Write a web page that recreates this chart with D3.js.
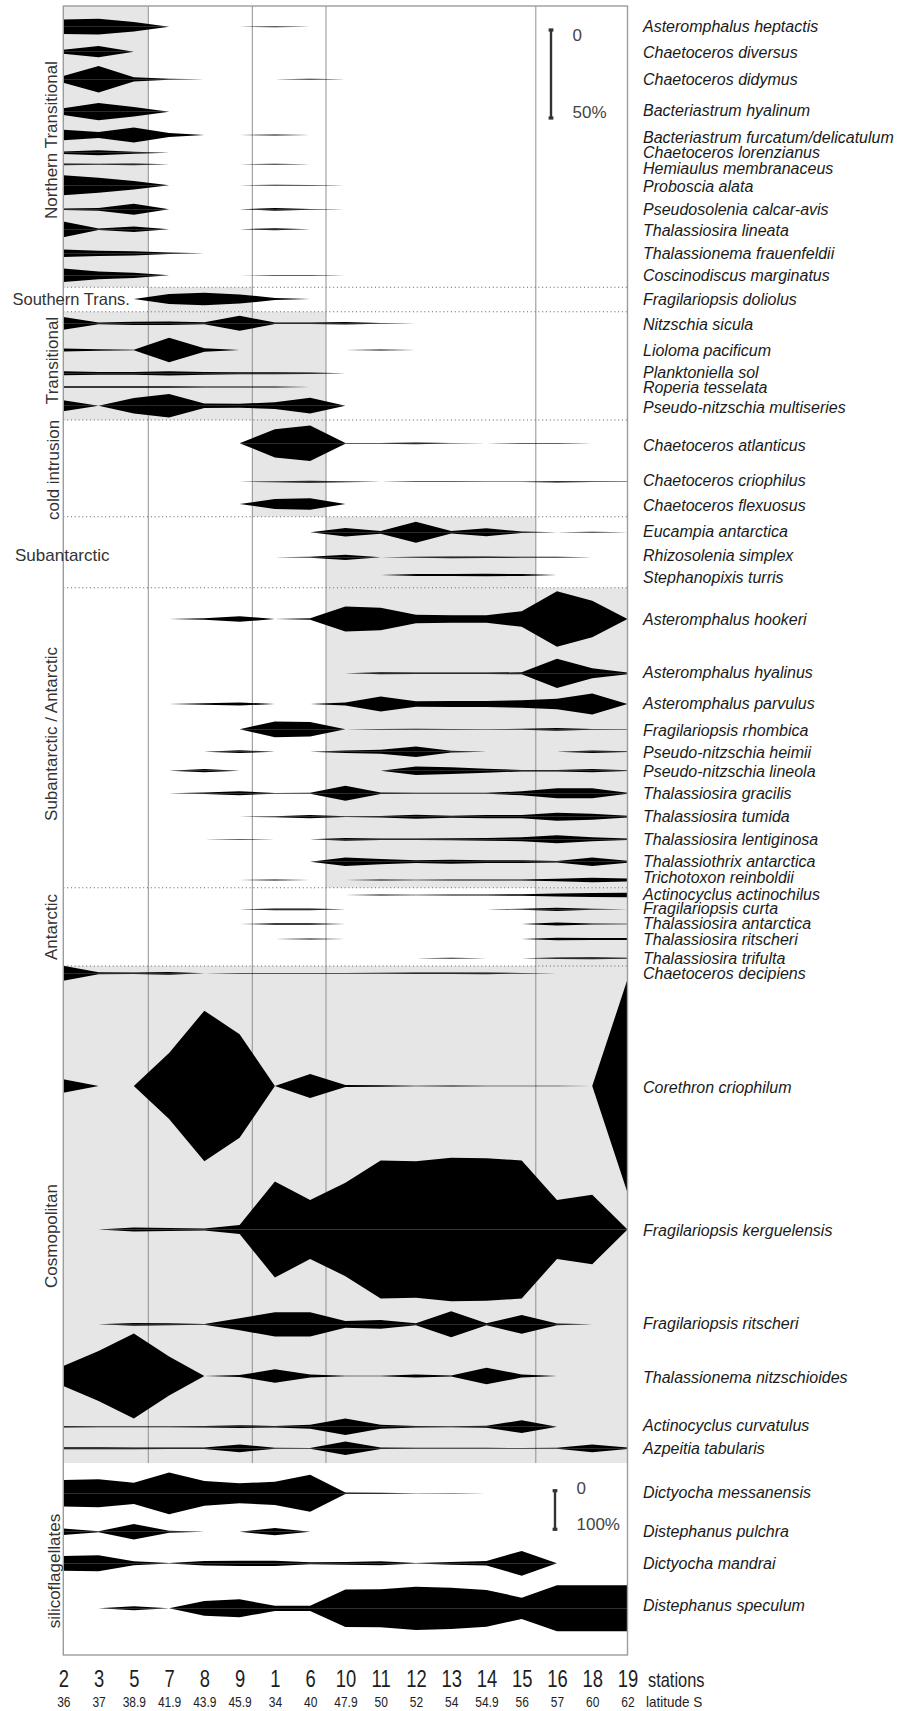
<!DOCTYPE html>
<html><head><meta charset="utf-8">
<script src="https://cdn.jsdelivr.net/npm/d3@7"></script>
<style>
body{margin:0;background:#fff}
svg{display:block}
text{font-family:"Liberation Sans",Arial,Helvetica,sans-serif}
</style>
</head><body>
<svg id="chart" width="899" height="1711"></svg>
<script>
// ---------------- DATA ----------------
const stations  = ["2","3","5","7","8","9","1","6","10","11","12","13","14","15","16","18","19"];
const latitudes = ["36","37","38.9","41.9","43.9","45.9","34","40","47.9","50","52","54","54.9","56","57","60","62"];

const groupLabels = ["Northern Transitional","Southern Trans.","Transitional","cold intrusion","Subantarctic",
  "Subantarctic / Antarctic","Antarctic","Cosmopolitan","silicoflagellates"];

const northernSpecies = ["Asteromphalus heptactis","Chaetoceros diversus","Chaetoceros didymus","Bacteriastrum hyalinum",
  "Bacteriastrum furcatum/delicatulum","Chaetoceros lorenzianus","Hemiaulus membranaceus","Proboscia alata",
  "Pseudosolenia calcar-avis","Thalassiosira lineata","Thalassionema frauenfeldii","Coscinodiscus marginatus"];
const northernValues = [
  [4.1,4.5,2.7,0,0,0,0.3,0,0,0,0,0,0,0,0,0,0],
  [1.1,3.2,0,0,0,0,0,0,0,0,0,0,0,0,0,0,0],
  [1.9,7.5,1.2,0.3,0,0,0,0.3,0,0,0,0,0,0,0,0,0],
  [1.9,4.9,2.7,0,0,0,0,0,0,0,0,0,0,0,0,0,0],
  [3.0,1.7,4.3,1.1,0,0,0.3,0,0,0,0,0,0,0,0,0,0],
  [0.7,1.4,0.6,0,0,0,0,0,0,0,0,0,0,0,0,0,0],
  [0.5,0.3,0.5,0,0,0,0.3,0,0,0,0,0,0,0,0,0,0],
  [5.7,4.3,2.4,0,0,0,0.25,0.2,0,0,0,0,0,0,0,0,0],
  [0.4,0.8,3.1,0,0,0,0.8,0.2,0,0,0,0,0,0,0,0,0],
  [4.5,0.4,1.6,0,0,0,0.6,0,0,0,0,0,0,0,0,0,0],
  [2.1,1.5,1.2,0.4,0,0,0,0,0,0,0,0,0,0,0,0,0],
  [3.8,2.2,1.5,0,0,0,0.2,0.2,0,0,0,0,0,0,0,0,0]
];

const southernSpecies = ["Fragilariopsis doliolus"];
const southernValues = [
  [0,0,0,2.9,3.6,2.6,0.6,0,0,0,0,0,0,0,0,0,0]
];

const transitionalSpecies = ["Nitzschia sicula","Lioloma pacificum","Planktoniella sol","Roperia tesselata","Pseudo-nitzschia multiseries"];
const transitionalValues = [
  [3.6,0.5,0.9,1.0,0.6,4.3,0.4,0.4,0.7,0.2,0,0,0,0,0,0,0],
  [0.9,0.4,0.2,6.9,1.0,0,0,0,0,0.3,0,0,0,0,0,0,0],
  [1.1,0.8,0.8,1.2,0.8,0.6,0.6,0.4,0,0,0,0,0,0,0,0,0],
  [0.4,0.4,0.4,0.4,0.3,0.3,0.3,0,0,0,0,0,0,0,0,0,0],
  [3.1,0,4.4,6.7,1.3,1.1,1.9,4.5,0,0,0,0,0,0,0,0,0]
];

const coldSpecies = ["Chaetoceros atlanticus","Chaetoceros criophilus","Chaetoceros flexuosus"];
const coldValues = [
  [0,0,0,0,0,0,8.0,10.1,0.2,0.2,0.5,0.1,0,0.2,0.2,0,0],
  [0,0,0,0,0,0,0.3,0.6,0.3,0,0.2,0.2,0.1,0.1,0.4,0.2,0.1],
  [0,0,0,0,0,0,2.8,3.3,0,0,0,0,0,0,0,0,0]
];

const subantarcticSpecies = ["Eucampia antarctica","Rhizosolenia simplex","Stephanopixis turris"];
const subantarcticValues = [
  [0,0,0,0,0,0,0,0,2.4,0.8,6.0,0.7,2.3,0.4,0,0.3,0],
  [0,0,0,0,0,0,0,0.3,1.5,0,0.3,0.5,0.4,0.3,0.3,0,0],
  [0,0,0,0,0,0,0,0,0,0,0.5,0.6,0.7,0.5,0,0,0]
];

const subAntSpecies = ["Asteromphalus hookeri","Asteromphalus hyalinus","Asteromphalus parvulus","Fragilariopsis rhombica",
  "Pseudo-nitzschia heimii","Pseudo-nitzschia lineola","Thalassiosira gracilis","Thalassiosira tumida",
  "Thalassiosira lentiginosa","Thalassiothrix antarctica","Trichotoxon reinboldii"];
const subAntValues = [
  [0,0,0,0,0.4,1.6,0,0.4,7.1,6.4,2.4,2.2,2.2,4.4,15.8,10.3,0],
  [0,0,0,0,0,0,0,0,0,0.6,0.4,0.4,0.4,0.6,8.3,2.8,0.5],
  [0,0,0,0,0.4,0.9,0,0,0.9,4.3,1.5,1.7,1.7,2.1,3.0,6.0,0],
  [0,0,0,0,0,0,4.5,4.1,0,0.2,0.3,0.2,0.1,0.3,0.8,0.2,0.1],
  [0,0,0,0,0,0.8,0,0,0.7,1.1,3.0,0.5,0,0,0,0.7,0.2],
  [0,0,0,0,0.9,0,0,0,0,0,2.4,1.9,1.1,0.4,0.4,0.9,0.2],
  [0,0,0,0,0.4,1.1,0.2,0.3,4.3,0.4,0.3,0.3,0.3,1.1,2.8,2.8,0.3],
  [0,0,0,0,0,0,0.3,0.9,0.2,0.4,1.1,0.6,0.9,0.9,2.3,1.7,0.5],
  [0,0,0,0,0,0.2,0,0,0.8,0.4,0.4,0.6,0.8,1.1,2.3,1.1,0.4],
  [0,0,0,0,0,0,0,0,2.4,1.5,0.8,1.1,0.8,0.8,0.4,2.4,0.6],
  [0,0,0,0,0,0,0.3,0,0,0.3,0.2,0.3,0.3,0.3,0.7,1.3,0.8]
];

const antarcticSpecies = ["Actinocyclus actinochilus","Fragilariopsis curta","Thalassiosira antarctica","Thalassiosira ritscheri","Thalassiosira trifulta"];
const antarcticValues = [
  [0,0,0,0,0,0,0,0,0,0.3,0.2,0.3,0.3,0.4,0.9,1.1,1.3],
  [0,0,0,0,0,0,0.5,0.5,0,0,0,0,0,0.3,0.9,0.3,0],
  [0,0,0,0,0,0,0.4,0.4,0,0,0,0,0,0,0.9,0.3,0.2],
  [0,0,0,0,0,0,0,0.3,0,0,0,0,0,0,0.7,0.6,0.5],
  [0,0,0,0,0,0,0,0,0,0,0,0.3,0,0,0.4,0.6,0.3]
];

const cosmoSpecies = ["Chaetoceros decipiens","Corethron criophilum","Fragilariopsis kerguelensis","Fragilariopsis ritscheri",
  "Thalassionema nitzschioides","Actinocyclus curvatulus","Azpeitia tabularis"];
const cosmoValues = [
  [4.3,0.6,0.4,0.8,0,0.2,0.2,0.2,0.2,0.3,0.4,0.4,0.5,0.2,0,0,0],
  [3.8,0,0,18.8,42.8,29.4,0,6.8,0.6,0.4,0.1,0.3,0.2,0.2,0.2,0,60.6],
  [0,0,1.1,0.9,0.6,2.5,27.3,16.8,26.5,39.2,38.8,40.8,40.5,39.2,16.7,19.7,0],
  [0,0,0.8,0.6,0.2,3.4,6.9,6.9,1.9,2.5,0.6,7.4,0.6,5.3,0.5,0,0],
  [5.7,14.2,24.1,11.1,0,0.5,3.8,0.9,0.2,0.1,0.9,0.3,4.7,0.9,0,0,0],
  [0.4,0.3,0.3,0.3,0.4,0.8,0.4,1.1,4.7,1.1,0.4,0.3,0.6,3.6,0,0,0],
  [0.6,0.6,0.5,0.4,0.4,2.2,0.3,0.2,3.8,0.4,0.3,0.3,0.3,0.2,0.3,2.2,0.4]
];

const siliSpecies = ["Dictyocha messanensis","Distephanus pulchra","Dictyocha mandrai","Distephanus speculum"];
const siliValues = [
  [34.5,36.3,27.6,54,32,25.9,30.2,47.9,2.0,1.5,0.3,0.8,0,0,0,0,0],
  [8.6,1.3,19.9,2.6,0,0,9.5,0,0,0,0,0,0,0,0,0,0],
  [19,20.7,5.2,0.5,6.0,6.9,6.9,2.6,3.5,5.2,0.5,3.5,6.0,32,0,0,0],
  [0,0,5,0,19,23.3,6.9,6.9,48.4,49.2,56.1,53.5,47.5,27.6,59.6,59.6,59.6]
];

// ---------------- LAYOUT ----------------
const panel = {left: 63.3, right: 627.5, top: 6, bottom: 1655, shadeBottom: 1463};
const frontIdx = [2.41, 5.36, 7.45, 13.4];   // frontal boundaries, in station-index units
const x = d3.scaleLinear().domain([0, stations.length - 1]).range([panel.left, panel.right]);
const diatomW = d3.scaleLinear().domain([0, 50]).range([0, 88]);     // half-width of kite
const siliW   = d3.scaleLinear().domain([0, 100]).range([0, 38.6]);

const groups = [
  {species: northernSpecies, values: northernValues, w: diatomW, y0: 6, y1: 287.3, shade: [0, frontIdx[0]],
   title: {mode: "v", c: 140, bx: 57},
   rowY: [26.7,51.7,79.3,111.7,135,152.7,164.3,185.3,209.3,229.3,253.3,275.3],
   labelY: [26,52.3,79.3,110,137,152.3,168.3,186.7,209.3,230.7,253.3,275]},
  {species: southernSpecies, values: southernValues, w: diatomW, y0: 287.3, y1: 311.7, shade: [frontIdx[0], frontIdx[1]],
   title: {mode: "h", x: 12.5, y: 305, size: 16.5},
   rowY: [299], labelY: [299]},
  {species: transitionalSpecies, values: transitionalValues, w: diatomW, y0: 311.7, y1: 420, shade: [0, frontIdx[2]],
   title: {mode: "v", c: 360.5, bx: 58},
   rowY: [323.3,350,373.3,387,405.7], labelY: [324,350,372,387.5,407]},
  {species: coldSpecies, values: coldValues, w: diatomW, y0: 420, y1: 516.7, shade: [frontIdx[1], frontIdx[2]],
   title: {mode: "v", c: 470, bx: 59},
   rowY: [443.3,481.7,504], labelY: [445,480.5,505]},
  {species: subantarcticSpecies, values: subantarcticValues, w: diatomW, y0: 516.7, y1: 587.7, shade: [frontIdx[2], frontIdx[3]],
   title: {mode: "h", x: 15, y: 561},
   rowY: [532.3,557.3,575], labelY: [531.5,555.5,577]},
  {species: subAntSpecies, values: subAntValues, w: diatomW, y0: 587.7, y1: 887.7, shade: [frontIdx[2], 16],
   title: {mode: "v", c: 734, bx: 57},
   rowY: [619,673.3,704,729.3,751.7,770.7,793.3,816.7,839.3,861.7,880],
   labelY: [619,672.5,703.5,730.5,752,771.5,793.5,816,839.5,861,877.5]},
  {species: antarcticSpecies, values: antarcticValues, w: diatomW, y0: 887.7, y1: 966, shade: [frontIdx[3], 16],
   title: {mode: "v", c: 927, bx: 57},
   rowY: [895,909.3,924,939,958.3], labelY: [894,908,923.5,939,958.5]},
  {species: cosmoSpecies, values: cosmoValues, w: diatomW, y0: 966, y1: 1463, shade: [0, 16],
   title: {mode: "v", c: 1236, bx: 57},
   rowY: [973.3,1086,1229.5,1324.3,1376,1426.7,1448.3],
   labelY: [973.5,1087,1230,1323,1377,1425.5,1448.5]},
  {species: siliSpecies, values: siliValues, w: siliW, y0: 1463, y1: 1655, shade: null,
   title: {mode: "v", c: 1571, bx: 60},
   rowY: [1493.3,1531.7,1563.3,1608.3], labelY: [1492.5,1531.7,1563.3,1605.5]}
];
const dividers = [287.3, 311.7, 420, 516.7, 587.7, 887.7, 966];

// ---------------- DRAW ----------------
const svg = d3.select("#chart");
svg.append("rect").attr("width", 899).attr("height", 1711).attr("fill", "#fff");

const gShade = svg.append("g");
groups.forEach(g => {
  if (!g.shade) return;
  gShade.append("rect")
    .attr("x", x(g.shade[0])).attr("y", g.y0)
    .attr("width", x(g.shade[1]) - x(g.shade[0])).attr("height", g.y1 - g.y0)
    .attr("fill", "#e6e6e6");
});

// frontal vertical lines
svg.append("g").selectAll("line").data(frontIdx).join("line")
  .attr("x1", d => x(d)).attr("x2", d => x(d))
  .attr("y1", panel.top).attr("y2", panel.shadeBottom)
  .attr("stroke", "#8f8f8f").attr("stroke-width", 1);

// dotted dividers
svg.append("g").selectAll("line").data(dividers).join("line")
  .attr("x1", panel.left).attr("x2", panel.right)
  .attr("y1", d => d).attr("y2", d => d)
  .attr("stroke", "#6a6a6a").attr("stroke-width", 1.1)
  .attr("stroke-dasharray", "1.1,2.7");

// kites (upper and lower halves drawn separately, leaving the faint seam of the original)
const gK = svg.append("g");
groups.forEach(g => {
  g.values.forEach((vals, r) => {
    const base = g.rowY[r];
    const up = d3.area().x((d, i) => x(i)).y0(base).y1(d => base - g.w(d));
    const dn = d3.area().x((d, i) => x(i)).y0(base).y1(d => base + g.w(d));
    gK.append("path").attr("d", up(vals)).attr("fill", "#000");
    gK.append("path").attr("d", dn(vals)).attr("fill", "#000");
  });
});

// panel border
svg.append("rect")
  .attr("x", panel.left).attr("y", panel.top)
  .attr("width", panel.right - panel.left).attr("height", panel.bottom - panel.top)
  .attr("fill", "none").attr("stroke", "#9c9c9c").attr("stroke-width", 1.4);

// species labels
const gL = svg.append("g").attr("fill", "#1a1a1a")
  .style("font-style", "italic").style("font-size", "16px");
groups.forEach(g => {
  g.species.forEach((name, r) => {
    gL.append("text").attr("x", 643).attr("y", g.labelY[r]).attr("dy", "0.36em").text(name);
  });
});

// group titles
const gT = svg.append("g").attr("fill", "#333").style("font-size", "17px");
groups.forEach((g, k) => {
  const t = g.title;
  if (t.mode === "v") {
    gT.append("text").attr("transform", `translate(${t.bx},${t.c}) rotate(-90)`)
      .attr("text-anchor", "middle").text(groupLabels[k]);
  } else {
    gT.append("text").attr("x", t.x).attr("y", t.y)
      .style("font-size", (t.size || 17) + "px").text(groupLabels[k]);
  }
});

// scale bars
function scaleBar(xb, yTop, len, labels, labelYs) {
  const gb = svg.append("g");
  gb.append("line").attr("x1", xb).attr("x2", xb).attr("y1", yTop).attr("y2", yTop + len)
    .attr("stroke", "#333").attr("stroke-width", 2.4);
  [yTop, yTop + len].forEach(yy => gb.append("rect").attr("x", xb - 2.4).attr("y", yy - 1.6)
    .attr("width", 4.8).attr("height", 3.2).attr("fill", "#333"));
  labels.forEach((s, i) => gb.append("text").attr("x", xb + 21.5).attr("y", labelYs[i]).attr("dy", "0.36em")
    .attr("fill", "#444").style("font-size", "17px").text(s));
}
scaleBar(551, 30, diatomW(50), ["0", "50%"], [35, 112]);
scaleBar(555, 1490.7, siliW(100), ["0", "100%"], [1488.3, 1524]);

// station / latitude axes
const axStations = d3.axisBottom(x).tickValues(d3.range(stations.length))
  .tickFormat(i => stations[i]).tickSize(0).tickPadding(0);
const axLat = d3.axisBottom(x).tickValues(d3.range(latitudes.length))
  .tickFormat(i => latitudes[i]).tickSize(0).tickPadding(0);

const gs = svg.append("g").attr("transform", "translate(0,1687)").call(axStations);
gs.select(".domain").remove();
gs.selectAll("text").attr("y", 0).attr("dy", 0).attr("fill", "#1e1e1e")
  .attr("transform", "scale(0.8,1)").style("font-size", "23px")
  .style("font-family", '"Liberation Sans",Arial,sans-serif');

const gl = svg.append("g").attr("transform", "translate(0,1707)").call(axLat);
gl.select(".domain").remove();
gl.selectAll("text").attr("y", 0).attr("dy", 0).attr("fill", "#1e1e1e")
  .attr("transform", "scale(0.8,1)").style("font-size", "15px")
  .style("font-family", '"Liberation Sans",Arial,sans-serif');

svg.append("text").attr("transform", "translate(648,1687) scale(0.82,1)")
  .attr("fill", "#1e1e1e").style("font-size", "20px").text("stations");
svg.append("text").attr("transform", "translate(646,1707) scale(0.9,1)")
  .attr("fill", "#1e1e1e").style("font-size", "15px").text("latitude S");
</script>
</body></html>
